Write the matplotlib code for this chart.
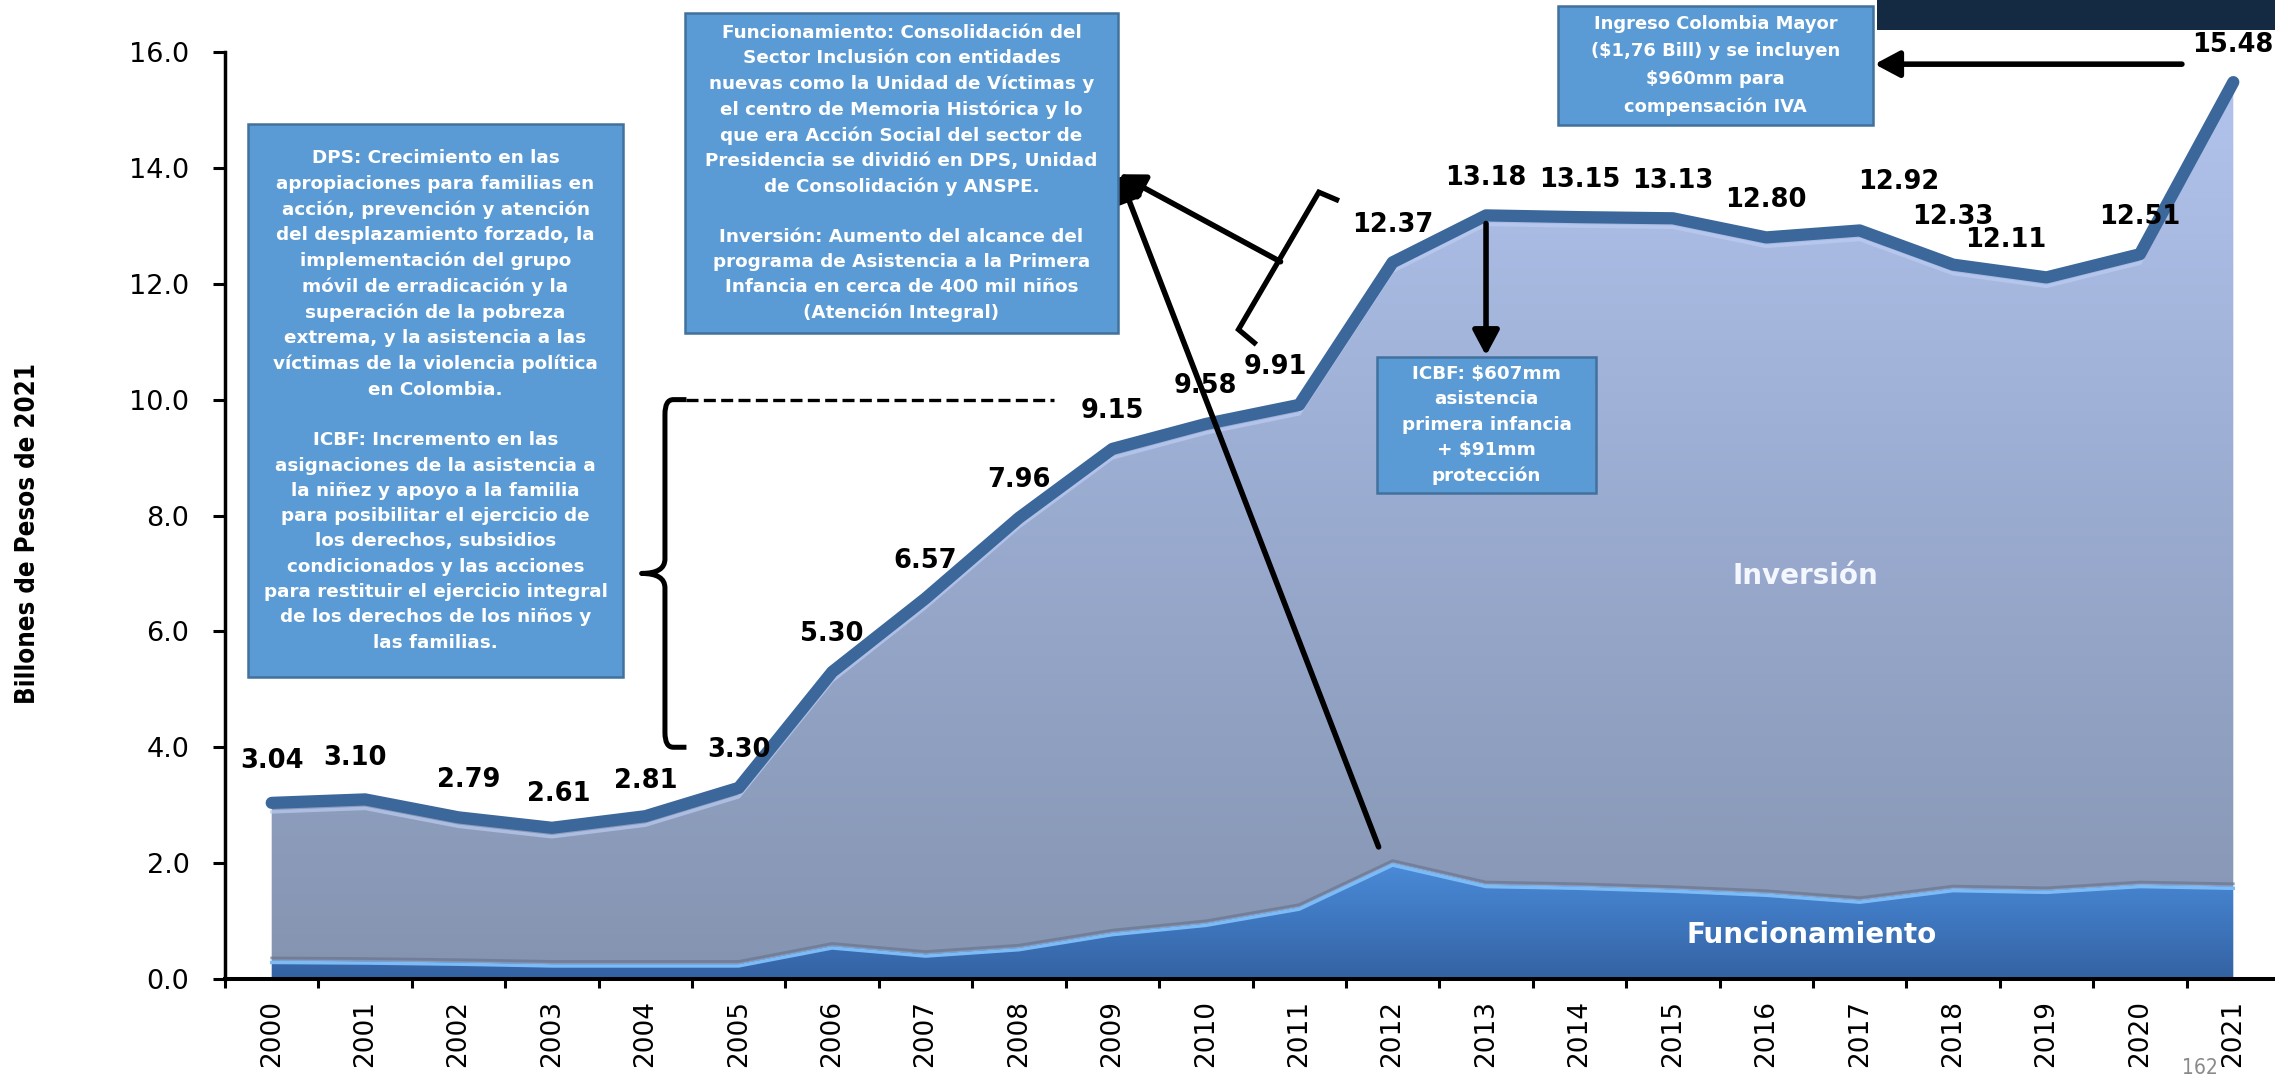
import numpy as np
import matplotlib
matplotlib.use("Agg")
import matplotlib.pyplot as plt
from matplotlib.colors import LinearSegmentedColormap
from matplotlib.patches import Rectangle, PathPatch
from matplotlib.path import Path
import matplotlib.transforms as mtransforms

# ---------------- data ----------------
years = [str(y) for y in range(2000, 2022)]
total = [3.04, 3.10, 2.79, 2.61, 2.81, 3.30, 5.30, 6.57, 7.96, 9.15, 9.58,
         9.91, 12.37, 13.18, 13.15, 13.13, 12.80, 12.92, 12.33, 12.11, 12.51, 15.48]
funcionamiento = [0.32, 0.31, 0.29, 0.26, 0.26, 0.26, 0.57, 0.43, 0.54, 0.80, 0.96,
                  1.24, 2.00, 1.63, 1.60, 1.55, 1.48, 1.36, 1.56, 1.53, 1.63, 1.60]
yticks = [0, 2, 4, 6, 8, 10, 12, 14, 16]
ytick_labels = ["0.0", "2.0", "4.0", "6.0", "8.0", "10.0", "12.0", "14.0", "16.0"]

W, H = 2275, 1080
fig = plt.figure(figsize=(W / 100, H / 100), dpi=100)
fig.patch.set_facecolor("white")

def fx(px):
    return px / W

def fy(py):
    return 1 - py / H

ax = fig.add_axes([fx(225), fy(979), (2280 - 225) / W, (979 - 52) / H])
x = np.arange(len(years))
ax.set_xlim(-0.5, 21.5)
ax.set_ylim(0, 16)

# ---------------- areas with gradients ----------------
inv_poly = ax.fill_between(x, funcionamiento, total, color="none", lw=0)
inv_cmap = LinearSegmentedColormap.from_list("inv", ["#8594B0", "#9AABD0", "#B3C5EE"])
grad = np.linspace(0, 1, 256).reshape(-1, 1)
im1 = ax.imshow(grad, extent=[-0.5, 21.5, 0, 16], origin="lower", aspect="auto",
                cmap=inv_cmap, zorder=1, interpolation="bicubic")
im1.set_clip_path(inv_poly.get_paths()[0], transform=ax.transData)

fun_poly = ax.fill_between(x, 0, funcionamiento, color="none", lw=0)
fun_cmap = LinearSegmentedColormap.from_list("fun", ["#3462A2", "#3F78C0", "#4C8DDB"])
im2 = ax.imshow(grad, extent=[-0.5, 21.5, 0, 2.1], origin="lower", aspect="auto",
                cmap=fun_cmap, zorder=1, interpolation="bicubic")
im2.set_clip_path(fun_poly.get_paths()[0], transform=ax.transData)

up = mtransforms.offset_copy(ax.transData, fig=fig, x=0, y=2.5, units="dots")
down = mtransforms.offset_copy(ax.transData, fig=fig, x=0, y=-2.0, units="dots")
ax.plot(x, funcionamiento, color="#6A7690", lw=2.0, alpha=0.7, transform=up, zorder=2)
ax.plot(x, funcionamiento, color="#7DBBF7", lw=2.5, transform=down, zorder=2)

rim = mtransforms.offset_copy(ax.transData, fig=fig, x=0, y=-9, units="dots")
ax.plot(x, total, color="#BCCCF2", lw=2.5, alpha=0.7, transform=rim, zorder=2)
ax.plot(x, total, color="#3C679B", lw=8.8, solid_capstyle="round",
        solid_joinstyle="round", zorder=3, clip_on=False)

# ---------------- axes styling ----------------
for s in ["top", "right"]:
    ax.spines[s].set_visible(False)
ax.spines["left"].set_linewidth(2.5)
ax.spines["bottom"].set_linewidth(2.9)
ax.set_yticks(yticks)
ax.set_yticklabels(ytick_labels)
ax.tick_params(axis="y", direction="out", length=8.6, width=2.2, pad=17,
               labelsize=19.5, colors="black")
ax.set_xticks(x)
ax.set_xticklabels(years, rotation=90)
ax.tick_params(axis="x", which="major", length=0, pad=15, labelsize=19)
ax.set_xticks(np.arange(-0.5, 22, 1.0), minor=True)
ax.tick_params(axis="x", which="minor", direction="out", length=6.5, width=2.2)

fig.text(fx(28), fy(533), "Billones de Pesos de 2021", rotation=90,
         ha="center", va="center", fontsize=18.5, fontweight="bold",
         fontstretch="condensed", family="DejaVu Sans")

# ---------------- value labels ----------------
label_dx = {1: -7, 2: 7, 3: 5, 11: -17, 17: 28, 19: -29}
label_dy = {0: 30, 1: 30, 3: 24, 4: 25, 17: 35, 18: 34}
for i, v in enumerate(total):
    ax.annotate(f"{v:.2f}", (x[i], v),
                xytext=(label_dx.get(i, 0), label_dy.get(i, 27)),
                textcoords="offset points", ha="center", va="center",
                fontsize=18.5, fontweight="bold", color="black",
                annotation_clip=False, zorder=6)

ax.text(16.42, 6.96, "Inversión", ha="center", va="center", fontsize=20,
        fontweight="bold", color="#F4F7FF", zorder=6)
ax.text(16.49, 0.76, "Funcionamiento", ha="center", va="center", fontsize=20,
        fontweight="bold", color="white", zorder=6)

# ---------------- annotation boxes ----------------
BOX_FACE = "#5B9BD5"
BOX_EDGE = "#41719C"

def box(x0, y0, x1, y1, text, size, ls):
    r = Rectangle((fx(x0), fy(y1)), fx(x1) - fx(x0), fy(y0) - fy(y1),
                  transform=fig.transFigure, facecolor=BOX_FACE,
                  edgecolor=BOX_EDGE, lw=1.8, zorder=10)
    fig.add_artist(r)
    fig.text(fx((x0 + x1) / 2), fy((y0 + y1) / 2), text, ha="center",
             va="center", color="white", fontsize=size, fontweight="bold",
             family="DejaVu Sans", linespacing=ls, zorder=11)

dps_text = ("DPS: Crecimiento en las\napropiaciones para familias en\n"
            "acción, prevención y atención\ndel desplazamiento forzado, la\n"
            "implementación del grupo\nmóvil de erradicación y la\n"
            "superación de la pobreza\nextrema, y la asistencia a las\n"
            "víctimas de la violencia política\nen Colombia.\n\n"
            "ICBF: Incremento en las\nasignaciones de la asistencia a\n"
            "la niñez y apoyo a la familia\npara posibilitar el ejercicio de\n"
            "los derechos, subsidios\ncondicionados y las acciones\n"
            "para restituir el ejercicio integral\nde los derechos de los niños y\n"
            "las familias.")
box(248, 124, 623, 677, dps_text, 13.2, 1.52)

fun_text = ("Funcionamiento: Consolidación del\nSector Inclusión con entidades\n"
            "nuevas como la Unidad de Víctimas y\nel centro de Memoria Histórica y lo\n"
            "que era Acción Social del sector de\nPresidencia se dividió en DPS, Unidad\n"
            "de Consolidación y ANSPE.\n\n"
            "Inversión: Aumento del alcance del\nprograma de Asistencia a la Primera\n"
            "Infancia en cerca de 400 mil niños\n(Atención Integral)")
box(685, 13, 1118, 333, fun_text, 13.2, 1.51)

ing_text = "Ingreso Colombia Mayor\n($1,76 Bill) y se incluyen\n$960mm para\ncompensación IVA"
box(1558, 6, 1873, 125, ing_text, 12.9, 1.66)

icbf_text = "ICBF: $607mm\nasistencia\nprimera infancia\n+ $91mm\nprotección"
box(1377, 357, 1596, 493, icbf_text, 13.2, 1.52)

# dark banner top-right
fig.add_artist(Rectangle((fx(1877), fy(30)), fx(2275) - fx(1877), fy(0) - fy(30),
                         transform=fig.transFigure, facecolor="#132A42",
                         edgecolor="none", zorder=10))

fig.text(fx(2200), fy(1068), "162", ha="center", va="center", fontsize=15,
         color="#8A8A8A", fontstretch="condensed", family="DejaVu Sans")

# ---------------- braces, dashed line, arrows ----------------
brace1 = Path([(4.44, 10.0), (4.30, 10.0), (4.21, 10.0), (4.21, 9.75),
               (4.21, 7.25), (4.21, 7.0), (3.96, 7.0),
               (4.21, 7.0), (4.21, 6.75),
               (4.21, 4.25), (4.21, 4.0), (4.30, 4.0), (4.44, 4.0)],
              [Path.MOVETO, Path.LINETO, Path.CURVE3, Path.CURVE3,
               Path.LINETO, Path.CURVE3, Path.CURVE3,
               Path.CURVE3, Path.CURVE3,
               Path.LINETO, Path.CURVE3, Path.CURVE3, Path.LINETO])
ax.add_patch(PathPatch(brace1, facecolor="none", edgecolor="black", lw=3.6,
                       capstyle="butt", joinstyle="round", zorder=7, clip_on=False))
ax.plot([4.44, 8.38], [10.0, 10.0], color="black", lw=2.4,
        linestyle=(0, (3.6, 1.6)), zorder=7, clip_on=False)

ax.plot([11.40, 11.21, 10.35, 10.52], [13.45, 13.58, 11.21, 10.98],
        color="black", lw=3.8, solid_joinstyle="miter", zorder=7, clip_on=False)

arrow_kw = dict(arrowstyle="-|>,head_length=0.6,head_width=0.32", color="black",
                lw=4.0, mutation_scale=25, shrinkA=0, shrinkB=0)
ax.annotate("", xy=(9.07, 13.89), xytext=(10.80, 12.38),
            arrowprops=arrow_kw, annotation_clip=False, zorder=8)
ax.annotate("", xy=(9.07, 13.89), xytext=(11.85, 2.28),
            arrowprops=arrow_kw, annotation_clip=False, zorder=8)
ax.annotate("", xy=(13.0, 10.76), xytext=(13.0, 13.04),
            arrowprops=arrow_kw, annotation_clip=False, zorder=8)
ax.annotate("", xy=(17.16, 15.79), xytext=(20.45, 15.79),
            arrowprops=arrow_kw, annotation_clip=False, zorder=8)

fig.savefig("out.png", dpi=100)
